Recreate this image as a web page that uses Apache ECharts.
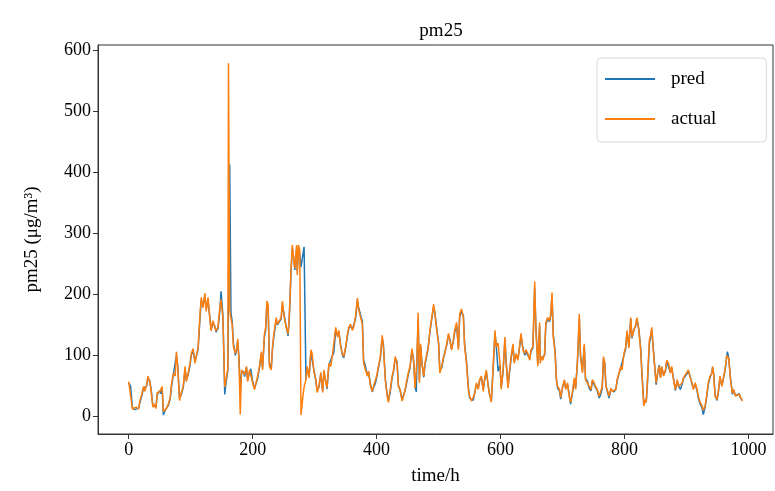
<!DOCTYPE html>
<html>
<head>
<meta charset="utf-8">
<script src="https://cdn.jsdelivr.net/npm/echarts@6/dist/echarts.min.js"></script>
<style>html,body{margin:0;padding:0;background:#fff}#c{width:775px;height:491px}</style>
</head>
<body>
<div id="c"></div>
<script>
const hours = [
 0,3,6,9,12,16,18,21,24,26,29,31,34,36,39,41,44,46,50,52,
 54,56,59,61,64,67,69,72,75,77,79,82,85,88,91,93,96,99,101,104,107,109,112,
 115,117,120,123,125,128,131,133,136,139,141,144,147,149,152,155,157,160,
 161,163,165,167,169,172,174,176,178,180,182,185,187,190,192,195,197,200,203,206,208,211,214,
 216,219,221,223,225,227,230,232,234,236,238,240,243,246,248,251,254,256,257,259,
 262,264,267,268,271,272,274,276,278,281,283,286,288,291,294,296,299,302,304,307,310,
 313,315,318,320,323,326,329,331,334,337,339,342,345,347,350,353,355,358,361,363,
 366,369,371,374,377,379,382,385,387,390,393,395,398,400,403,406,409,411,414,417,
 419,422,425,427,430,433,435,438,441,443,446,449,451,454,457,460,462,464,465,467,469,
 471,473,476,478,481,483,486,489,492,494,497,500,502,505,508,510,513,516,518,521,
 524,526,529,532,534,537,540,542,545,548,550,553,556,558,561,564,566,569,572,
 574,577,580,582,585,588,591,593,596,599,601,604,607,609,612,614,617,620,622,625,
 628,631,633,636,639,641,644,647,649,652,653,655,657,660,663,664,666,668,671,673,676,679,681,683,
 685,688,690,692,695,697,700,703,705,708,711,713,716,719,721,724,727,729,732,735,737,
 740,743,746,748,751,753,756,759,761,764,766,768,770,772,775,778,780,783,786,788,791,
 794,796,799,802,804,807,810,812,815,818,820,823,826,828,831,834,835,837,840,842,844,
 846,849,851,854,856,858,860,863,866,868,871,874,876,879,882,885,887,890,893,895,898,
 901,903,906,909,911,914,917,919,922,925,927,930,933,935,938,941,942,944,946,949,951,
 954,957,959,962,965,966,968,971,974,976,979,982,985,987,990
];
const actual = [
 57,54,12,13,15,12,25,36,49,41,52,66,57,43,15,20,13,39,40,39,
 49,8,9,13,20,31,52,71,66,106,82,26,39,49,82,57,71,87,103,111,87,90,114,
 165,195,178,202,172,195,159,140,157,146,140,146,178,192,162,48,60,79,
 579,175,160,150,114,103,111,127,90,3,76,72,68,82,57,76,76,55,44,41,66,82,106,
 76,135,146,189,183,82,76,114,133,130,162,151,154,162,189,162,146,141,135,162,
 243,281,249,243,281,232,281,272,2,32,48,61,82,63,109,103,72,61,39,50,72,
 39,76,55,47,87,82,103,103,146,130,141,114,103,98,114,135,146,151,141,146,
 165,194,175,178,151,87,85,66,74,50,41,49,52,66,82,98,133,114,60,33,
 23,44,66,74,98,87,49,44,25,31,44,41,71,82,111,87,46,44,92,170,55,
 119,87,66,87,103,109,141,162,184,168,141,119,71,82,98,103,119,136,125,109,
 127,141,154,109,168,176,162,114,87,44,33,25,28,36,55,44,60,66,41,
 60,76,49,38,23,82,141,114,120,87,44,76,130,87,46,71,98,119,87,103,
 92,119,136,109,103,109,103,92,109,114,146,221,141,82,154,87,98,92,103,154,162,157,168,203,
 130,103,60,49,44,31,49,60,44,55,31,23,41,63,44,92,168,98,71,119,60,
 55,49,44,60,55,49,44,33,31,49,98,87,49,44,33,46,41,41,44,60,71,
 82,76,103,114,141,112,162,130,141,150,162,141,109,71,17,28,23,60,125,133,146,
 114,76,55,76,82,63,82,66,76,92,87,71,82,60,44,60,49,46,55,63,68,
 68,76,63,55,44,55,44,33,23,17,10,17,38,55,66,71,82,66,33,28,38,
 66,49,49,76,100,98,95,60,38,44,33,36,36,33,25
];
const pred = [
 55,50,15,11,14,13,22,33,46,43,50,62,58,46,18,17,15,35,42,37,
 47,2,10,12,18,29,48,68,68,100,85,30,36,47,78,60,68,84,100,108,90,88,110,
 160,190,182,198,176,190,162,143,152,148,138,144,172,205,166,36,55,75,
 75,413,170,155,120,100,108,122,95,40,70,74,65,80,60,72,78,57,46,43,62,80,102,
 80,130,142,184,180,88,78,110,130,132,158,150,150,160,183,165,148,138,132,158,
 238,276,255,240,275,238,276,265,245,265,278,60,80,66,104,105,75,58,42,48,70,
 42,72,58,45,84,85,100,105,142,132,138,117,100,96,112,132,144,148,143,144,
 160,190,178,175,155,92,82,68,72,53,40,47,54,63,80,95,128,117,62,36,
 26,40,63,72,94,90,52,42,28,30,42,43,68,80,108,90,48,40,88,160,60,
 115,90,64,84,100,112,138,160,180,170,144,120,75,80,96,105,116,133,127,110,
 124,138,150,112,163,172,165,118,90,48,30,28,26,38,52,46,58,64,44,
 58,72,52,36,26,78,136,116,74,84,48,72,126,90,48,68,95,116,90,100,
 94,116,132,112,100,106,105,94,106,112,140,210,146,86,148,92,96,94,100,150,160,155,165,198,
 134,106,62,46,42,28,48,58,46,52,34,20,38,60,46,88,160,100,74,115,62,
 58,46,42,58,56,48,42,30,34,46,94,88,50,42,30,44,43,40,45,58,70,
 80,78,100,112,138,115,160,128,142,148,160,143,112,72,22,25,24,55,118,130,142,
 116,78,52,74,84,64,80,68,74,90,88,72,80,62,42,58,50,44,53,62,66,
 70,74,65,52,46,53,42,30,20,14,3,15,35,52,64,72,80,68,36,26,36,
 64,50,47,74,100,106,96,62,36,42,34,34,37,30,27
];
const xTicks = [0, 200, 400, 600, 800, 1000];
const yTicks = [0, 100, 200, 300, 400, 500, 600];
const seriesNames = ['pred', 'actual'];
const titleText = 'pm25';
const xName = 'time/h';
const yName = 'pm25 (\u03bcg/m\u00b3)';

const FONT = 'Liberation Serif';
const chart = echarts.init(document.getElementById('c'), null, {renderer: 'canvas'});
const toPairs = arr => hours.map((h, i) => [h, arr[i]]);
chart.setOption({
  animation: false,
  backgroundColor: '#fff',
  textStyle: {fontFamily: FONT},
  title: {
    text: titleText, left: 436, top: 17, textAlign: 'center',
    textStyle: {fontFamily: FONT, fontSize: 19, fontWeight: 'normal', color: '#000'}
  },
  legend: {
    data: seriesNames, orient: 'vertical', left: 597, top: 58,
    padding: [10, 50, 12, 8], itemGap: 18, itemWidth: 50, itemHeight: 2,
    icon: 'rect', backgroundColor: '#fff', borderColor: '#d9d9d9', borderWidth: 1, borderRadius: 4,
    textStyle: {fontFamily: FONT, fontSize: 19, color: '#000', padding: [0, 0, 0, 11], lineHeight: 22}
  },
  grid: {left: 98, right: 2, top: 45, bottom: 51, show: true, borderColor: '#333', borderWidth: 1, containLabel: false},
  xAxis: {
    type: 'value', min: -49.5, max: 1039.5,
    name: xName, nameLocation: 'middle', nameGap: 33,
    nameTextStyle: {fontFamily: FONT, fontSize: 19, color: '#000'},
    splitLine: {show: false},
    axisLine: {show: true, onZero: false, lineStyle: {color: '#333', width: 1}},
    axisTick: {show: true, customValues: xTicks, length: 5, lineStyle: {color: '#333'}},
    axisLabel: {customValues: xTicks, formatter: v => String(v), fontFamily: FONT, fontSize: 18, color: '#000', margin: 7}
  },
  yAxis: {
    type: 'value', min: -29, max: 609,
    name: yName, nameLocation: 'middle', nameGap: 56, nameRotate: 90,
    nameTextStyle: {fontFamily: FONT, fontSize: 19, color: '#000'},
    splitLine: {show: false},
    axisLine: {show: true, onZero: false, lineStyle: {color: '#333', width: 1}},
    axisTick: {show: true, customValues: yTicks, length: 5, lineStyle: {color: '#333'}},
    axisLabel: {customValues: yTicks, formatter: v => String(v), fontFamily: FONT, fontSize: 18, color: '#000', margin: 7}
  },
  series: [
    {name: seriesNames[0], type: 'line', data: toPairs(pred), showSymbol: false, symbol: 'none',
     lineStyle: {color: '#1f77b4', width: 1.5}, itemStyle: {color: '#1f77b4'}, z: 2},
    {name: seriesNames[1], type: 'line', data: toPairs(actual), showSymbol: false, symbol: 'none',
     lineStyle: {color: '#ff7f0e', width: 1.5}, itemStyle: {color: '#ff7f0e'}, z: 3}
  ]
});
</script>
</body>
</html>
